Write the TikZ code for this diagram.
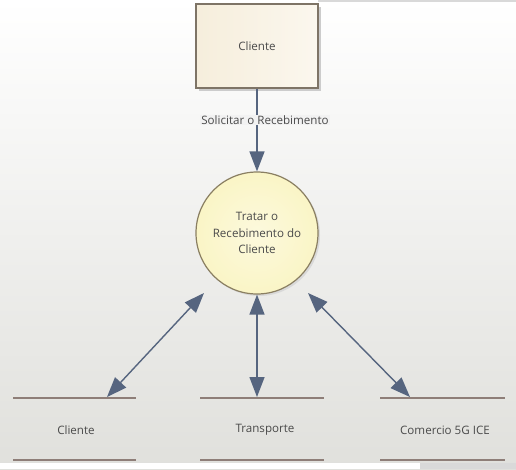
\documentclass[tikz,border=0pt]{standalone}
\usepackage{fontspec}
\setmainfont{Open Sans}
\usetikzlibrary{arrows.meta}
\definecolor{arrowc}{HTML}{56657F}
\definecolor{storec}{HTML}{8E7E78}
\definecolor{boxfill}{HTML}{F6EEDC}
\definecolor{boxfillr}{HTML}{FBF7EE}
\definecolor{boxdraw}{HTML}{7E7466}
\definecolor{circfill}{HTML}{FAF5C6}
\definecolor{circdraw}{HTML}{8A7F62}
\definecolor{txtc}{HTML}{4A4A4A}
\definecolor{bgbot}{HTML}{E0E0DC}
\tikzset{
  lbl/.style={font=\fontsize{11.6}{16.5}\selectfont, text=txtc, align=center},
  flow/.style={draw=arrowc, line width=1.4pt, -{Triangle[length=20pt,width=15pt]}},
  bflow/.style={draw=arrowc, line width=1.4pt, {Triangle[length=20pt,width=15pt]}-{Triangle[length=20pt,width=15pt]}},
  storeline/.style={draw=storec, line width=2.6pt},
  entbox/.style={draw=boxdraw, line width=1.2pt, left color=boxfill, right color=boxfillr, minimum width=122pt, minimum height=84pt, inner sep=0pt},
  proc/.style={circle, draw=circdraw, line width=1.2pt, inner color=circfill!60!white, outer color=circfill, minimum size=122pt, inner sep=0pt}
}
\begin{document}
\begin{tikzpicture}[x=1pt,y=-1pt]
\useasboundingbox (0,0) rectangle (516,469);
\shade[top color=white, bottom color=bgbot] (0,0) rectangle (516,469);
\fill[white] (0,463) rectangle (420,469);
\fill[black!15] (420,463) rectangle (516,469);
\fill[black!15] (318,0) rectangle (516,1.5);

% entity
\fill[black!20] (199,7) rectangle (321,91);
\node[entbox, lbl] (cli) at (257,46) {Cliente};
% process
\fill[black!15] (259,235) circle (61);
\node[proc, lbl] (proc) at (257,233) {Tratar o\\Recebimento do\\Cliente};

% data stores
\coordinate (s1a) at (13,398); \coordinate (s1b) at (136,398);
\coordinate (s1c) at (13,460); \coordinate (s1d) at (136,460);
\coordinate (s2a) at (200,398); \coordinate (s2b) at (324,398);
\coordinate (s2c) at (200,460); \coordinate (s2d) at (324,460);
\coordinate (s3a) at (380,398); \coordinate (s3b) at (505,398);
\coordinate (s3c) at (380,460); \coordinate (s3d) at (505,460);
\draw[storeline] (s1a) -- (s1b);
\draw[storeline] (s1c) -- (s1d);
\draw[storeline] (s2a) -- (s2b);
\draw[storeline] (s2c) -- (s2d);
\draw[storeline] (s3a) -- (s3b);
\draw[storeline] (s3c) -- (s3d);
\node[lbl] (st1) at (76,430) {Cliente};
\node[lbl] (st2) at (265,430) {Transporte};
\node[lbl] (st3) at (445,430) {Comercio 5G ICE};

\coordinate (e1) at (107,397);
\coordinate (e2) at (257,397);
\coordinate (e3) at (410,397);
\coordinate (p1) at (204,293);
\coordinate (p3) at (308,293);

% flows
\draw[flow] (cli.south) -- (proc.north);
\node[lbl, fill=white!95!black, inner sep=1pt] (flbl) at (265,120) {Solicitar o Recebimento};
\draw[bflow] (e1) -- (p1);
\draw[bflow] (e2) -- (proc.south);
\draw[bflow] (e3) -- (p3);
\end{tikzpicture}
\end{document}
